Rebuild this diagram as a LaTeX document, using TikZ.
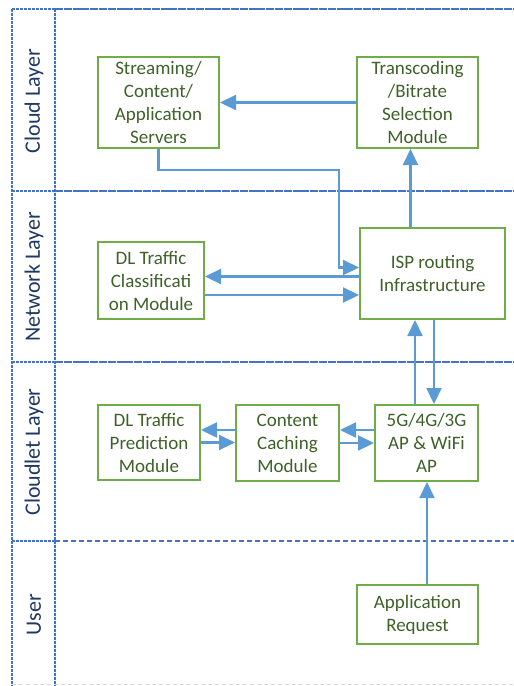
\documentclass[tikz,border=0pt]{standalone}
\usepackage{fontspec}
\setmainfont{Carlito}
\usetikzlibrary{arrows.meta}

\definecolor{boxgreen}{HTML}{70AD47}
\definecolor{textgreen}{HTML}{3E6128}
\definecolor{flowblue}{HTML}{5B9BD5}
\definecolor{layerblue}{HTML}{4472C4}
\definecolor{layertext}{HTML}{1F3864}

\begin{document}
\begin{tikzpicture}[
    x=1pt, y=-1pt,
    module/.style={draw=boxgreen, line width=2pt, text=textgreen, align=center,
        font=\fontsize{19}{23}\selectfont, inner sep=0pt},
    flow/.style={draw=flowblue, line width=2.2pt, -{Triangle[length=16pt,width=15pt]}},
    layerline/.style={draw=layerblue, line width=1.8pt, dash pattern=on 8pt off 0.8pt},
    layerdash/.style={draw=layerblue, line width=1.5pt, dash pattern=on 5pt off 3pt},
    sideline/.style={draw=layerblue, line width=1.4pt, dash pattern=on 2.5pt off 1.5pt},
    layername/.style={rotate=90, text=layertext, font=\fontsize{22}{26}\selectfont},
]
\useasboundingbox (0,0) rectangle (514,686);

% layer frame
\draw[sideline] (12,9) -- (12,686);
\draw[sideline] (55,9) -- (55,686);
\foreach \y in {9,191,362} {
  \draw[sideline] (12,\y) -- (55,\y);
  \draw[layerline] (55,\y) -- (514,\y);
}
\draw[sideline] (12,541) -- (55,541);
\draw[layerdash] (55,541) -- (514,541);
\draw[black!15, line width=1pt, dash pattern=on 4pt off 3pt] (12,684) -- (514,684);

% layer names
\foreach \y/\name in {101/Cloud Layer, 277/Network Layer, 452/Cloudlet Layer, 615/User} {
  \node[layername] at (34,\y) {\name};
}

% modules
\node[module, minimum width=121pt, minimum height=91pt] (stream) at (158.5,102.5) {Streaming/\\Content/\\Application\\Servers};
\node[module, minimum width=121pt, minimum height=91pt] (trans) at (417.5,102.5) {Transcoding\\/Bitrate\\Selection\\Module};
\node[module, minimum width=106pt, minimum height=77pt] (cls) at (151,280.5) {DL Traffic\\Classificati\\on Module};
\node[module, minimum width=145pt, minimum height=91pt] (isp) at (432.5,273.5) {ISP routing\\Infrastructure};
\node[module, minimum width=102pt, minimum height=75pt] (pred) at (149,442.5) {DL Traffic\\Prediction\\Module};
\node[module, minimum width=103pt, minimum height=76pt] (cache) at (287.5,443) {Content\\Caching\\Module};
\node[module, minimum width=103pt, minimum height=76pt] (ap) at (426.5,443) {5G/4G/3G\\AP \& WiFi\\AP};
\node[module, minimum width=121pt, minimum height=59pt] (req) at (417.5,614.5) {Application\\Request};

% flows
\draw[flow] (trans.west) -- (stream.west -| stream.east);
\draw[flow] (stream.south) |- (339,170) |- ([yshift=6pt]isp.west);
\draw[flow] ([xshift=-22pt]isp.north) -- ([xshift=-22pt]isp.north |- trans.south);
\draw[flow] ([yshift=-3pt]isp.west) -- ([yshift=-3pt]isp.west -| cls.east);
\draw[flow] ([yshift=-14.5pt]cls.east) -- ([yshift=-14.5pt]cls.east -| isp.west);
\draw[flow] ([xshift=-11.5pt]ap.north) -- ([xshift=-11.5pt]ap.north |- isp.south);
\draw[flow] ([xshift=7.5pt]ap.north |- isp.south) -- ([xshift=7.5pt]ap.north);
\draw[flow] ([yshift=13pt]ap.west) -- ([yshift=13pt]ap.west -| cache.east);
\draw[flow] (cache.east) -- (cache.east -| ap.west);
\draw[flow] ([yshift=13pt]cache.west) -- ([yshift=13pt]cache.west -| pred.east);
\draw[flow] (pred.east) -- (pred.east -| cache.west);
\draw[flow] ([xshift=9.5pt]req.north) -- ([xshift=9.5pt]req.north |- ap.south);
\end{tikzpicture}
\end{document}
